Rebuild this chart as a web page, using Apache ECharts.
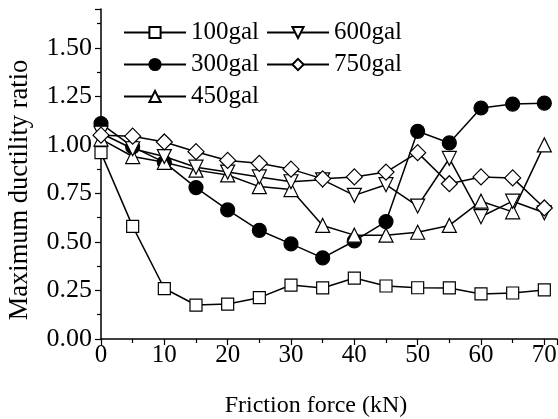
<!DOCTYPE html>
<html>
<head>
<meta charset="utf-8">
<script src="https://cdn.jsdelivr.net/npm/echarts@6/dist/echarts.min.js"></script>
<style>
  html, body { margin: 0; padding: 0; background: #fff; }
  #chart { width: 558px; height: 419px; }
</style>
</head>
<body>
<div id="chart"></div>
<script>
  // friction force (kN)
  const force = [0, 5, 10, 15, 20, 25, 30, 35, 40, 45, 50, 55, 60, 65, 70];

  const g100 = [0.96, 0.58, 0.26, 0.175, 0.18, 0.213, 0.278, 0.263, 0.314, 0.273, 0.264, 0.263, 0.232, 0.237, 0.253];
  const g300 = [1.11, 0.99, 0.91, 0.78, 0.665, 0.56, 0.49, 0.418, 0.505, 0.605, 1.07, 1.01, 1.19, 1.21, 1.215];
  const g450 = [1.03, 0.94, 0.91, 0.87, 0.845, 0.785, 0.77, 0.585, 0.535, 0.535, 0.55, 0.585, 0.71, 0.655, 1.0];
  const g600 = [1.06, 0.98, 0.94, 0.885, 0.86, 0.835, 0.81, 0.82, 0.74, 0.795, 0.685, 0.93, 0.63, 0.71, 0.65];
  const g750 = [1.05, 1.045, 1.015, 0.965, 0.92, 0.905, 0.875, 0.825, 0.835, 0.86, 0.96, 0.80, 0.835, 0.83, 0.675];

  const yTicks = ['0.00', '0.25', '0.50', '0.75', '1.00', '1.25', '1.50'];

  const FONT = '"Liberation Serif", "DejaVu Serif", serif';

  function pairs(vals) {
    return vals.map((v, i) => [force[i], v]);
  }

  function mk(name, vals, symbol, size, fill, rotate) {
    return {
      name: name,
      type: 'line',
      data: pairs(vals),
      symbol: symbol,
      symbolSize: size,
      symbolRotate: rotate || 0,
      showAllSymbol: true,
      clip: false,
      lineStyle: { color: '#000', width: 1.5 },
      itemStyle: { color: fill, borderColor: '#000', borderWidth: 1.2, opacity: 1 },
      emphasis: { disabled: true },
      animation: false
    };
  }

  const chart = echarts.init(document.getElementById('chart'), null, { renderer: 'canvas' });

  const legendCommon = {
    orient: 'vertical',
    top: 20,
    padding: 0,
    itemWidth: 62,
    itemHeight: 14,
    itemGap: 7,
    selectedMode: false,
    textStyle: { fontFamily: FONT, fontSize: 25, color: '#000' }
  };

  chart.setOption({
    backgroundColor: '#fff',
    animation: false,
    grid: { left: 101, right: 1, top: 9, bottom: 80, containLabel: false, outerBoundsMode: 'none' },
    legend: [
      Object.assign({ left: 123, data: ['100gal', '300gal', '450gal'] }, legendCommon),
      Object.assign({ left: 266, data: ['600gal', '750gal'] }, legendCommon)
    ],
    xAxis: {
      type: 'value',
      min: 0,
      max: 72,
      interval: 10,
      name: 'Friction force (kN)',
      nameLocation: 'middle',
      nameGap: 55,
      nameTextStyle: { fontFamily: FONT, fontSize: 24, color: '#000', padding: [0, 26, 0, 0] },
      axisLine: { onZero: false, lineStyle: { color: '#000', width: 1.5 } },
      axisTick: { show: true, inside: false, length: 6, lineStyle: { color: '#000', width: 1.2 } },
      minorTick: { show: true, splitNumber: 2, length: 4, lineStyle: { color: '#000', width: 1.2 } },
      splitLine: { show: false },
      axisLabel: {
        fontFamily: FONT, fontSize: 25, color: '#000', margin: 4,
        formatter: v => (v <= 70 ? String(v) : '')
      }
    },
    yAxis: {
      type: 'value',
      min: 0,
      max: 1.7,
      interval: 0.25,
      name: 'Maximum ductility ratio',
      nameLocation: 'middle',
      nameGap: 67,
      nameTextStyle: { fontFamily: FONT, fontSize: 26.5, color: '#000', padding: [0, 32, 0, 0] },
      axisLine: { show: true, onZero: false, lineStyle: { color: '#000', width: 1.5 } },
      axisTick: { show: true, inside: false, length: 6, lineStyle: { color: '#000', width: 1.2 } },
      minorTick: { show: true, splitNumber: 2, length: 4, lineStyle: { color: '#000', width: 1.2 } },
      splitLine: { show: false },
      axisLabel: {
        fontFamily: FONT, fontSize: 26, color: '#000', margin: 9,
        formatter: v => {
          const idx = Math.round(v / 0.25);
          return yTicks[idx] !== undefined ? yTicks[idx] : '';
        }
      }
    },
    series: [
      mk('100gal', g100, 'rect', 12, '#fff'),
      mk('300gal', g300, 'circle', 14, '#000'),
      mk('450gal', g450, 'triangle', 14, '#fff'),
      mk('600gal', g600, 'triangle', 14, '#fff', 180),
      mk('750gal', g750, 'diamond', 16, '#fff')
    ]
  });
</script>
</body>
</html>
